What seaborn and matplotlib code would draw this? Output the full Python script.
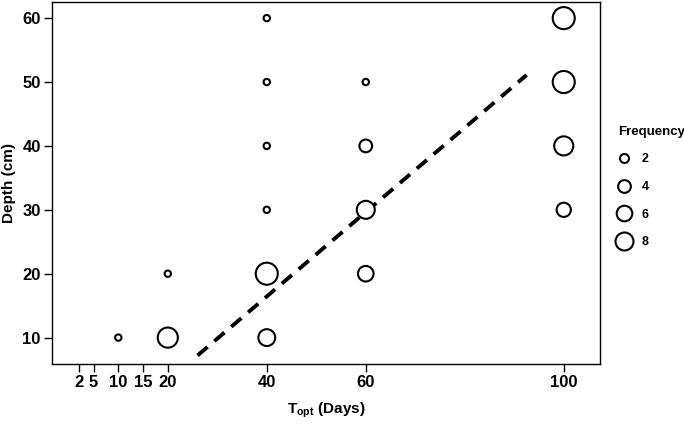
"""
Depth vs. T_opt bubble chart, circle size = frequency.
"""

import pandas as pd
import matplotlib
matplotlib.use("Agg")
import matplotlib.pyplot as plt
from matplotlib.lines import Line2D
import seaborn as sns

topt = [10, 20, 20, 40, 40, 40, 40, 40, 40, 60, 60, 60, 60, 100, 100, 100, 100]
depth = [10, 10, 20, 10, 20, 30, 40, 50, 60, 20, 30, 40, 50, 30, 40, 50, 60]
freq = [1, 10, 1, 7, 12, 1, 1, 1, 1, 6, 8, 4, 1, 5, 9, 12, 12]

# dashed trend line, end points
fit_x = [26, 92.5]
fit_y = [7.2, 51.1]

xticks = [2, 5, 10, 15, 20, 40, 60, 100]
yticks = [10, 20, 30, 40, 50, 60]
legend_freq = [2, 4, 6, 8]

AREA_PER_FREQ = 21.0  # marker area (pt^2) per unit of frequency


def main():
    sns.set_style("white")
    plt.rcParams['font.family'] = ['Liberation Sans', 'DejaVu Sans']
    plt.rcParams['mathtext.fontset'] = 'custom'
    plt.rcParams['mathtext.rm'] = 'Liberation Sans:bold'
    plt.rcParams['mathtext.bf'] = 'Liberation Sans:bold'
    for key in ['text.color', 'axes.labelcolor', 'xtick.color', 'ytick.color',
                'axes.edgecolor']:
        plt.rcParams[key] = 'black'

    df = pd.DataFrame({'Topt': topt, 'Depth': depth, 'Frequency': freq})
    fit = pd.DataFrame({'x': fit_x, 'y': fit_y})

    fig = plt.figure(figsize=(6.84, 4.28), dpi=100)
    ax = fig.add_axes([0.076, 0.150, 0.801, 0.845])

    sns.lineplot(data=fit, x='x', y='y', ax=ax, color='black', linewidth=2.8)
    ax.lines[-1].set_dashes((3.4, 2.3))

    fmin, fmax = min(freq), max(freq)
    sns.scatterplot(data=df, x='Topt', y='Depth', size='Frequency',
                    sizes=(AREA_PER_FREQ * fmin, AREA_PER_FREQ * fmax),
                    size_norm=(fmin, fmax), facecolor='white',
                    edgecolor='black', linewidth=1.5, legend=False,
                    ax=ax, zorder=3)

    ax.set_xlim(-3.4, 107.3)
    ax.set_ylim(5.9, 62.5)
    ax.set_xticks(xticks)
    ax.set_yticks(yticks)
    ax.tick_params(axis='both', direction='out', length=6, width=1,
                   labelsize=12, color='black', labelcolor='black',
                   bottom=True, left=True, pad=2)
    for lab in ax.get_xticklabels() + ax.get_yticklabels():
        lab.set_fontweight('bold')
    for sp in ax.spines.values():
        sp.set_color('black')
        sp.set_linewidth(1)

    ax.set_xlabel(r'$\mathbf{T_{opt}}$ (Days)', fontsize=11, fontweight='bold',
                  labelpad=8, color='black')
    ax.set_ylabel('Depth (cm)', fontsize=11, fontweight='bold', labelpad=5,
                  color='black')

    handles = [Line2D([], [], marker='o', linestyle='', markerfacecolor='white',
                      markeredgecolor='black', markeredgewidth=1.5,
                      markersize=(AREA_PER_FREQ * f) ** 0.5)
               for f in legend_freq]
    leg = fig.legend(handles, [str(f) for f in legend_freq], title='Frequency',
                     loc='upper left', bbox_to_anchor=(0.903, 0.706),
                     frameon=False, fontsize=9, title_fontsize=9.5,
                     labelspacing=1.25, handlelength=1.0, handletextpad=0.9,
                     borderaxespad=0, borderpad=0)
    leg._legend_box.align = 'left'
    leg.get_title().set_fontweight('bold')
    leg.get_title().set_color('black')
    for t in leg.get_texts():
        t.set_fontweight('bold')
        t.set_color('black')

    fig.savefig('out.png', dpi=100)


if __name__ == "__main__":
    main()
